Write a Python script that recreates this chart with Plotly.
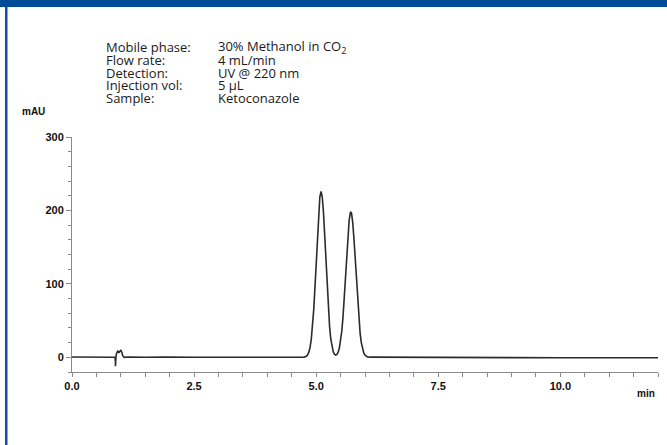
import plotly.graph_objects as go

# ---- data ----
time_min = [0.0, 0.3, 0.6, 0.8, 0.88, 0.889, 0.89, 0.891, 0.9, 0.91, 0.925, 0.94, 0.96, 0.98, 1.0,
            1.02, 1.04, 1.07, 1.15, 1.5, 1.85, 1.9, 2.5, 3.0, 3.5, 4.0, 4.5, 4.75,
            4.8, 4.825, 4.85, 4.875, 4.9, 4.925, 4.95, 4.975, 5.0, 5.025, 5.05, 5.075, 5.1,
            5.125, 5.15, 5.175, 5.2, 5.225, 5.25, 5.275, 5.3, 5.325, 5.35, 5.375, 5.4,
            5.425, 5.45, 5.475, 5.5, 5.525, 5.55, 5.575, 5.6, 5.625, 5.65, 5.675, 5.7, 5.71,
            5.725, 5.75, 5.775, 5.8, 5.825, 5.85, 5.875, 5.9, 5.925, 5.95, 5.975, 6.0,
            6.025, 6.05, 6.1, 6.5, 7.0, 8.0, 9.0, 10.0, 11.0, 12.0]
absorbance_mau = [0.5, 0.3, 0.4, 0.2, 0.0, -6.0, -12.0, -6.0, 0.0, 5.0, 8.0, 9.0, 6.0, 7.5, 10.0,
                  7.0, 2.0, 0.0, 0.5, 0.0, 0.8, 0.2, 0.0, -0.1, 0.0, -0.2, -0.1, 0.3,
                  1.5, 3.4, 7.0, 13.6, 24.6, 41.4, 65.0, 95.1, 129.9, 165.5, 196.8, 218.3, 226.0,
                  218.3, 196.8, 165.5, 129.9, 95.1, 65.0, 41.4, 24.6, 13.8, 7.3, 4.1, 3.1,
                  4.0, 7.0, 12.6, 21.8, 35.8, 55.1, 79.6, 108.1, 138.0, 165.4, 186.3, 197.0, 198.0,
                  195.8, 182.7, 160.3, 132.0, 102.2, 74.2, 50.8, 32.5, 19.6, 11.1, 5.9, 2.9,
                  1.4, 0.6, 0.2, 0.0, -0.2, -0.3, -0.4, -0.5, -0.6, -0.6]

y_tick_vals = [0, 100, 200, 300]
y_tick_text = ["0", "100", "200", "300"]
x_tick_vals = [0, 2.5, 5, 7.5, 10]
x_tick_text = ["0.0", "2.5", "5.0", "7.5", "10.0"]

info_labels = ["Mobile phase:", "Flow rate:", "Detection:", "Injection vol:", "Sample:"]
info_values = ["30% Methanol in CO<sub>2</sub>", "4 mL/min", "UV @ 220 nm", "5 µL", "Ketoconazole"]

# ---- layout geometry (pixels) ----
W, H = 667, 445
L, R = 72, 9           # plot spans x = 72 .. 658
T, B = 137, 73         # plot spans y = 137 .. 372
PW, PH = W - L - R, H - T - B


def px(x):
    return (x - L) / PW


def py(y):
    return (H - B - y) / PH


fig = go.Figure()
fig.add_trace(go.Scatter(x=time_min, y=absorbance_mau, mode="lines",
                         line=dict(color="#2b2b2b", width=1.6), showlegend=False,
                         hoverinfo="skip"))

tickfont = dict(family="Liberation Sans, Arial, sans-serif", size=11, color="#111", weight="bold")
axis_col = "#8a8a8a"

fig.update_xaxes(range=[0, 12], showgrid=False, zeroline=False, showline=True,
                 linecolor=axis_col, linewidth=1, ticks="outside", ticklen=4,
                 tickcolor=axis_col, tickvals=x_tick_vals, ticktext=x_tick_text,
                 tickfont=tickfont,
                 minor=dict(dtick=0.5, tick0=0, ticks="outside", ticklen=4, tickcolor=axis_col))
fig.update_yaxes(range=[-20, 300], showgrid=False, zeroline=False, showline=True,
                 linecolor=axis_col, linewidth=1, ticks="outside", ticklen=5,
                 tickcolor=axis_col, tickvals=y_tick_vals, ticktext=y_tick_text,
                 tickfont=tickfont,
                 minor=dict(dtick=20, tick0=0, ticks="outside", ticklen=3, tickcolor=axis_col))

annotations = []
line_y = [47, 59.75, 72.5, 85.25, 98]
txtfont = dict(family="Open Sans, Noto Sans, sans-serif", size=13, color="#1a1a1a")
for lab, val, yy in zip(info_labels, info_values, line_y):
    annotations.append(dict(text=lab, xref="paper", yref="paper", x=px(105), y=py(yy),
                            xanchor="left", yanchor="middle", showarrow=False, font=txtfont,
                            borderpad=0))
    annotations.append(dict(text=val, xref="paper", yref="paper", x=px(217), y=py(yy),
                            xanchor="left", yanchor="middle", showarrow=False, font=txtfont,
                            borderpad=0))
labfont = dict(family="Liberation Sans, Arial, sans-serif", size=10, color="#111", weight="bold")
annotations.append(dict(text="mAU", xref="paper", yref="paper", x=px(33), y=py(112),
                        xanchor="center", yanchor="middle", showarrow=False, font=labfont))
annotations.append(dict(text="min", xref="paper", yref="paper", x=px(646), y=py(393),
                        xanchor="center", yanchor="middle", showarrow=False, font=labfont))

shapes = [
    dict(type="rect", xref="paper", yref="paper", x0=px(0), x1=px(W), y0=py(7), y1=py(0),
         fillcolor="#004a98", line=dict(width=0), layer="above"),
    dict(type="rect", xref="paper", yref="paper", x0=px(5), x1=px(7.5), y0=py(H), y1=py(7),
         fillcolor="#0d4ea6", line=dict(width=0), layer="above"),
]

fig.update_layout(width=W, height=H, margin=dict(l=L, r=R, t=T, b=B),
                  plot_bgcolor="white", paper_bgcolor="white",
                  annotations=annotations, shapes=shapes)

fig.write_html("out.html", config={"displayModeBar": False},
               post_script="document.body.style.margin='0';")
